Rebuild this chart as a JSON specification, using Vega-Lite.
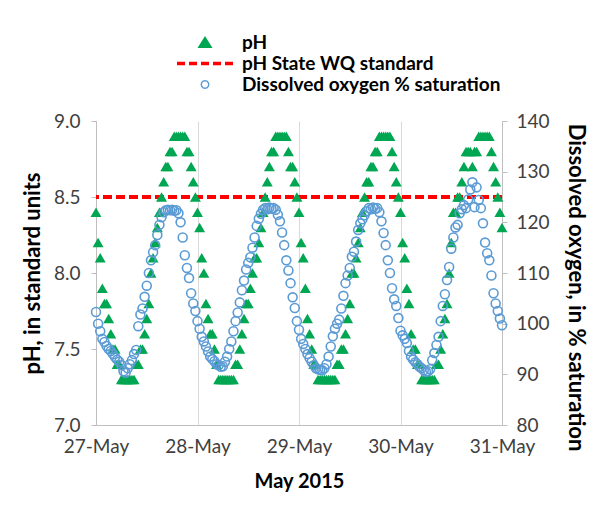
{
  "$schema": "https://vega.github.io/schema/vega-lite/v6.json",
  "autosize": "none",
  "width": 406,
  "height": 304,
  "padding": {"left": 96, "top": 121, "right": 98, "bottom": 81},
  "background": "white",
  "config": {"view": {"stroke": null}, "font": "Lato"},
  "data": {"values": [
    {"t":"2015-05-27T00:00","pH":8.4,"DO":102.3},{"t":"2015-05-27T00:30","pH":8.2,"DO":100.0},{"t":"2015-05-27T01:00","pH":8.1,"DO":98.5},{"t":"2015-05-27T01:30","pH":7.9,"DO":97.0},
    {"t":"2015-05-27T02:00","pH":7.8,"DO":96.4},{"t":"2015-05-27T02:30","pH":7.8,"DO":95.6},{"t":"2015-05-27T03:00","pH":7.7,"DO":95.0},{"t":"2015-05-27T03:30","pH":7.6,"DO":94.6},
    {"t":"2015-05-27T04:00","pH":7.5,"DO":94.0},{"t":"2015-05-27T04:30","pH":7.5,"DO":93.4},{"t":"2015-05-27T05:00","pH":7.4,"DO":92.9},{"t":"2015-05-27T05:30","pH":7.4,"DO":92.5},
    {"t":"2015-05-27T06:00","pH":7.3,"DO":91.8},{"t":"2015-05-27T06:30","pH":7.3,"DO":90.6},{"t":"2015-05-27T07:00","pH":7.3,"DO":90.3},{"t":"2015-05-27T07:30","pH":7.3,"DO":91.2},
    {"t":"2015-05-27T08:00","pH":7.3,"DO":92.0},{"t":"2015-05-27T08:30","pH":7.3,"DO":92.8},{"t":"2015-05-27T09:00","pH":7.3,"DO":94.0},{"t":"2015-05-27T09:30","pH":7.4,"DO":94.8},
    {"t":"2015-05-27T10:00","pH":7.4,"DO":99.5},{"t":"2015-05-27T10:30","pH":7.5,"DO":101.8},{"t":"2015-05-27T11:00","pH":7.5,"DO":103.0},{"t":"2015-05-27T11:30","pH":7.6,"DO":105.3},
    {"t":"2015-05-27T12:00","pH":7.7,"DO":107.5},{"t":"2015-05-27T12:30","pH":7.8,"DO":110.0},{"t":"2015-05-27T13:00","pH":8.0,"DO":112.5},{"t":"2015-05-27T13:30","pH":8.1,"DO":114.1},
    {"t":"2015-05-27T14:00","pH":8.2,"DO":115.5},{"t":"2015-05-27T14:30","pH":8.3,"DO":117.5},{"t":"2015-05-27T15:00","pH":8.4,"DO":119.5},{"t":"2015-05-27T15:30","pH":8.5,"DO":121.0},
    {"t":"2015-05-27T16:00","pH":8.6,"DO":122.0},{"t":"2015-05-27T16:30","pH":8.7,"DO":122.4},{"t":"2015-05-27T17:00","pH":8.7,"DO":122.5},{"t":"2015-05-27T17:30","pH":8.8,"DO":122.4},
    {"t":"2015-05-27T18:00","pH":8.8,"DO":122.5},{"t":"2015-05-27T18:30","pH":8.9,"DO":122.3},{"t":"2015-05-27T19:00","pH":8.9,"DO":122.4},{"t":"2015-05-27T19:30","pH":8.9,"DO":121.8},
    {"t":"2015-05-27T20:00","pH":8.9,"DO":120.0},{"t":"2015-05-27T20:30","pH":8.9,"DO":117.0},{"t":"2015-05-27T21:00","pH":8.9,"DO":113.5},{"t":"2015-05-27T21:30","pH":8.8,"DO":111.0},
    {"t":"2015-05-27T22:00","pH":8.8,"DO":109.0},{"t":"2015-05-27T22:30","pH":8.7,"DO":106.0},{"t":"2015-05-27T23:00","pH":8.6,"DO":104.0},{"t":"2015-05-27T23:30","pH":8.5,"DO":102.5},
    {"t":"2015-05-28T00:00","pH":8.4,"DO":100.5},{"t":"2015-05-28T00:30","pH":8.3,"DO":99.0},{"t":"2015-05-28T01:00","pH":8.1,"DO":97.4},{"t":"2015-05-28T01:30","pH":8.0,"DO":96.5},
    {"t":"2015-05-28T02:00","pH":7.8,"DO":95.5},{"t":"2015-05-28T02:30","pH":7.7,"DO":94.5},{"t":"2015-05-28T03:00","pH":7.6,"DO":93.5},{"t":"2015-05-28T03:30","pH":7.6,"DO":93.0},
    {"t":"2015-05-28T04:00","pH":7.5,"DO":92.6},{"t":"2015-05-28T04:30","pH":7.4,"DO":92.0},{"t":"2015-05-28T05:00","pH":7.3,"DO":91.8},{"t":"2015-05-28T05:30","pH":7.3,"DO":91.5},
    {"t":"2015-05-28T06:00","pH":7.3,"DO":91.6},{"t":"2015-05-28T06:30","pH":7.3,"DO":92.5},{"t":"2015-05-28T07:00","pH":7.3,"DO":93.5},{"t":"2015-05-28T07:30","pH":7.3,"DO":95.0},
    {"t":"2015-05-28T08:00","pH":7.3,"DO":96.5},{"t":"2015-05-28T08:30","pH":7.3,"DO":98.5},{"t":"2015-05-28T09:00","pH":7.4,"DO":100.5},{"t":"2015-05-28T09:30","pH":7.4,"DO":102.2},
    {"t":"2015-05-28T10:00","pH":7.5,"DO":104.2},{"t":"2015-05-28T10:30","pH":7.6,"DO":106.6},{"t":"2015-05-28T11:00","pH":7.7,"DO":108.5},{"t":"2015-05-28T11:30","pH":7.8,"DO":110.7},
    {"t":"2015-05-28T12:00","pH":7.8,"DO":112.0},{"t":"2015-05-28T12:30","pH":7.9,"DO":113.1},{"t":"2015-05-28T13:00","pH":8.0,"DO":115.0},{"t":"2015-05-28T13:30","pH":8.1,"DO":117.0},
    {"t":"2015-05-28T14:00","pH":8.1,"DO":119.3},{"t":"2015-05-28T14:30","pH":8.2,"DO":120.7},{"t":"2015-05-28T15:00","pH":8.3,"DO":121.7},{"t":"2015-05-28T15:30","pH":8.4,"DO":122.5},
    {"t":"2015-05-28T16:00","pH":8.5,"DO":122.8},{"t":"2015-05-28T16:30","pH":8.6,"DO":122.6},{"t":"2015-05-28T17:00","pH":8.7,"DO":122.9},{"t":"2015-05-28T17:30","pH":8.8,"DO":122.7},
    {"t":"2015-05-28T18:00","pH":8.8,"DO":122.8},{"t":"2015-05-28T18:30","pH":8.9,"DO":122.5},{"t":"2015-05-28T19:00","pH":8.9,"DO":121.5},{"t":"2015-05-28T19:30","pH":8.9,"DO":120.2},
    {"t":"2015-05-28T20:00","pH":8.9,"DO":118.0},{"t":"2015-05-28T20:30","pH":8.9,"DO":115.5},{"t":"2015-05-28T21:00","pH":8.9,"DO":112.5},{"t":"2015-05-28T21:30","pH":8.8,"DO":110.5},
    {"t":"2015-05-28T22:00","pH":8.7,"DO":108.0},{"t":"2015-05-28T22:30","pH":8.7,"DO":105.2},{"t":"2015-05-28T23:00","pH":8.6,"DO":103.1},{"t":"2015-05-28T23:30","pH":8.5,"DO":100.5},
    {"t":"2015-05-29T00:00","pH":8.4,"DO":98.8},{"t":"2015-05-29T00:30","pH":8.2,"DO":97.0},{"t":"2015-05-29T01:00","pH":8.1,"DO":96.0},{"t":"2015-05-29T01:30","pH":7.9,"DO":95.0},
    {"t":"2015-05-29T02:00","pH":7.7,"DO":94.0},{"t":"2015-05-29T02:30","pH":7.6,"DO":93.2},{"t":"2015-05-29T03:00","pH":7.5,"DO":92.5},{"t":"2015-05-29T03:30","pH":7.4,"DO":91.8},
    {"t":"2015-05-29T04:00","pH":7.4,"DO":91.2},{"t":"2015-05-29T04:30","pH":7.3,"DO":91.0},{"t":"2015-05-29T05:00","pH":7.3,"DO":90.9},{"t":"2015-05-29T05:30","pH":7.3,"DO":90.8},
    {"t":"2015-05-29T06:00","pH":7.3,"DO":91.2},{"t":"2015-05-29T06:30","pH":7.3,"DO":92.0},{"t":"2015-05-29T07:00","pH":7.3,"DO":93.5},{"t":"2015-05-29T07:30","pH":7.3,"DO":95.5},
    {"t":"2015-05-29T08:00","pH":7.3,"DO":97.5},{"t":"2015-05-29T08:30","pH":7.3,"DO":99.0},{"t":"2015-05-29T09:00","pH":7.4,"DO":100.0},{"t":"2015-05-29T09:30","pH":7.4,"DO":100.8},
    {"t":"2015-05-29T10:00","pH":7.5,"DO":103.0},{"t":"2015-05-29T10:30","pH":7.5,"DO":105.5},{"t":"2015-05-29T11:00","pH":7.6,"DO":108.0},{"t":"2015-05-29T11:30","pH":7.7,"DO":109.5},
    {"t":"2015-05-29T12:00","pH":7.8,"DO":111.0},{"t":"2015-05-29T12:30","pH":8.0,"DO":113.2},{"t":"2015-05-29T13:00","pH":8.0,"DO":114.2},{"t":"2015-05-29T13:30","pH":8.1,"DO":116.2},
    {"t":"2015-05-29T14:00","pH":8.2,"DO":118.5},{"t":"2015-05-29T14:30","pH":8.3,"DO":119.8},{"t":"2015-05-29T15:00","pH":8.4,"DO":120.6},{"t":"2015-05-29T15:30","pH":8.5,"DO":121.4},
    {"t":"2015-05-29T16:00","pH":8.6,"DO":122.2},{"t":"2015-05-29T16:30","pH":8.6,"DO":122.8},{"t":"2015-05-29T17:00","pH":8.7,"DO":122.6},{"t":"2015-05-29T17:30","pH":8.7,"DO":122.9},
    {"t":"2015-05-29T18:00","pH":8.8,"DO":122.7},{"t":"2015-05-29T18:30","pH":8.8,"DO":122.8},{"t":"2015-05-29T19:00","pH":8.9,"DO":122.0},{"t":"2015-05-29T19:30","pH":8.9,"DO":120.2},
    {"t":"2015-05-29T20:00","pH":8.9,"DO":117.9},{"t":"2015-05-29T20:30","pH":8.9,"DO":115.5},{"t":"2015-05-29T21:00","pH":8.9,"DO":112.5},{"t":"2015-05-29T21:30","pH":8.9,"DO":110.0},
    {"t":"2015-05-29T22:00","pH":8.8,"DO":107.0},{"t":"2015-05-29T22:30","pH":8.7,"DO":104.8},{"t":"2015-05-29T23:00","pH":8.6,"DO":103.5},{"t":"2015-05-29T23:30","pH":8.5,"DO":101.1},
    {"t":"2015-05-30T00:00","pH":8.4,"DO":98.6},{"t":"2015-05-30T00:30","pH":8.2,"DO":97.7},{"t":"2015-05-30T01:00","pH":8.1,"DO":97.0},{"t":"2015-05-30T01:30","pH":7.9,"DO":96.2},
    {"t":"2015-05-30T02:00","pH":7.8,"DO":94.6},{"t":"2015-05-30T02:30","pH":7.6,"DO":93.5},{"t":"2015-05-30T03:00","pH":7.5,"DO":92.9},{"t":"2015-05-30T03:30","pH":7.5,"DO":92.4},
    {"t":"2015-05-30T04:00","pH":7.4,"DO":92.0},{"t":"2015-05-30T04:30","pH":7.4,"DO":91.5},{"t":"2015-05-30T05:00","pH":7.3,"DO":91.2},{"t":"2015-05-30T05:30","pH":7.3,"DO":90.8},
    {"t":"2015-05-30T06:00","pH":7.3,"DO":90.5},{"t":"2015-05-30T06:30","pH":7.3,"DO":90.6},{"t":"2015-05-30T07:00","pH":7.3,"DO":91.0},{"t":"2015-05-30T07:30","pH":7.3,"DO":92.8},
    {"t":"2015-05-30T08:00","pH":7.3,"DO":94.2},{"t":"2015-05-30T08:30","pH":7.4,"DO":95.8},{"t":"2015-05-30T09:00","pH":7.4,"DO":97.4},{"t":"2015-05-30T09:30","pH":7.5,"DO":100.5},
    {"t":"2015-05-30T10:00","pH":7.6,"DO":103.5},{"t":"2015-05-30T10:30","pH":7.7,"DO":105.8},{"t":"2015-05-30T11:00","pH":7.8,"DO":108.6},{"t":"2015-05-30T11:30","pH":8.0,"DO":111.2},
    {"t":"2015-05-30T12:00","pH":8.2,"DO":114.8},{"t":"2015-05-30T12:30","pH":8.4,"DO":117.0},{"t":"2015-05-30T13:00","pH":8.4,"DO":119.0},{"t":"2015-05-30T13:30","pH":8.5,"DO":119.5},
    {"t":"2015-05-30T14:00","pH":8.5,"DO":121.8},{"t":"2015-05-30T14:30","pH":8.6,"DO":122.6},{"t":"2015-05-30T15:00","pH":8.7,"DO":123.4},{"t":"2015-05-30T15:30","pH":8.8,"DO":122.8},
    {"t":"2015-05-30T16:00","pH":8.8,"DO":124.5},{"t":"2015-05-30T16:30","pH":8.8,"DO":126.5},{"t":"2015-05-30T17:00","pH":8.7,"DO":127.9},{"t":"2015-05-30T17:30","pH":8.8,"DO":123.0},
    {"t":"2015-05-30T18:00","pH":8.8,"DO":126.9},{"t":"2015-05-30T18:30","pH":8.9,"DO":124.4},{"t":"2015-05-30T19:00","pH":8.9,"DO":122.8},{"t":"2015-05-30T19:30","pH":8.9,"DO":119.8},
    {"t":"2015-05-30T20:00","pH":8.9,"DO":116.0},{"t":"2015-05-30T20:30","pH":8.9,"DO":113.9},{"t":"2015-05-30T21:00","pH":8.9,"DO":112.5},{"t":"2015-05-30T21:30","pH":8.8,"DO":109.5},
    {"t":"2015-05-30T22:00","pH":8.7,"DO":106.0},{"t":"2015-05-30T22:30","pH":8.6,"DO":104.0},{"t":"2015-05-30T23:00","pH":8.5,"DO":102.5},{"t":"2015-05-30T23:30","pH":8.4,"DO":101.0},
    {"t":"2015-05-31T00:00","pH":8.3,"DO":99.7}
  ]},
  "layer": [
    {
      "layer": [
        {
          "mark": {"type": "rule", "strokeDash": [9, 4], "strokeWidth": 3.5},
          "encoding": {
            "y": {"datum": 8.5, "type": "quantitative", "scale": {"domain": [7, 9], "nice": false},
              "axis": {"title": "pH, in standard units", "values": [7, 7.5, 8, 8.5, 9], "format": ".1f", "grid": false, "domainColor": "#bfbfbf", "tickColor": "#bfbfbf", "tickSize": 5, "labelFont": "Lato", "labelFontSize": 19, "labelColor": "#404040", "labelPadding": 11, "titleFont": "Lato", "titleFontSize": 22, "titleFontWeight": "bold", "titleColor": "black", "titlePadding": 9}},
            "color": {"datum": "pH State WQ standard",
              "scale": {"domain": ["pH", "pH State WQ standard", "Dissolved oxygen % saturation"], "range": ["#00a651", "#ff0000", "#5b9bd5"]},
              "legend": {"orient": "none", "legendX": 80, "legendY": -89, "direction": "vertical", "title": null, "symbolSize": 3136, "symbolStrokeWidth": 1.5, "labelFont": "Lato", "labelFontSize": 19, "labelFontWeight": "bold", "labelColor": "black", "labelOffset": 8, "labelLimit": 400, "clipHeight": 21, "rowPadding": 0, "padding": 0,
                "encode": {"symbols": {"update": {
                  "shape": {"signal": "datum.value === 'pH' ? 'M0,-0.18L0.22,0.17L-0.22,0.17Z' : datum.value === 'pH State WQ standard' ? 'M-1,-0.06H-0.714V0.06H-1Z M-0.571,-0.06H-0.286V0.06H-0.571Z M-0.143,-0.06H0.143V0.06H-0.143Z M0.286,-0.06H0.571V0.06H0.286Z M0.714,-0.06H1V0.06H0.714Z' : 'M0.16,0L0.139,0.08L0.08,0.139L0,0.16L-0.08,0.139L-0.139,0.08L-0.16,0L-0.139,-0.08L-0.08,-0.139L0,-0.16L0.08,-0.139L0.139,-0.08Z M0.11,0L0.095,-0.055L0.055,-0.095L0,-0.11L-0.055,-0.095L-0.095,-0.055L-0.11,0L-0.095,0.055L-0.055,0.095L0,0.11L0.055,0.095L0.095,0.055Z'"},
                  "fill": {"signal": "datum.value === 'pH' ? '#00a651' : datum.value === 'pH State WQ standard' ? '#ff0000' : '#5b9bd5'"},
                  "fillOpacity": {"value": 1},
                  "stroke": {"signal": "datum.value === 'pH' ? '#00a651' : datum.value === 'pH State WQ standard' ? '#ff0000' : '#5b9bd5'"},
                  "strokeWidth": {"value": 1.5},
                  "strokeOpacity": {"signal": "datum.value === 'pH' ? 1 : 0"},
                  "opacity": {"value": 1}
                }}}}}
          }
        },
        {
          "mark": {"type": "point", "shape": "triangle-up", "filled": true, "size": 120, "opacity": 1},
          "encoding": {
            "x": {"field": "t", "type": "temporal",
              "scale": {"domain": [{"year": 2015, "month": 5, "date": 27}, {"year": 2015, "month": 5, "date": 31}], "nice": false},
              "axis": {"title": "May 2015", "values": [{"year": 2015, "month": 5, "date": 27}, {"year": 2015, "month": 5, "date": 28}, {"year": 2015, "month": 5, "date": 29}, {"year": 2015, "month": 5, "date": 30}, {"year": 2015, "month": 5, "date": 31}], "format": "%-d-%b", "grid": true, "gridColor": "#d9d9d9", "domainColor": "#bfbfbf", "ticks": false, "labelFont": "Lato", "labelFontSize": 19, "labelColor": "#404040", "labelPadding": 12, "labelOverlap": false, "labelFlush": false, "titleFont": "Lato", "titleFontSize": 20, "titleFontWeight": "bold", "titleColor": "black", "titlePadding": 15}},
            "y": {"field": "pH", "type": "quantitative", "scale": {"domain": [7, 9], "nice": false},
              "axis": {"title": "pH, in standard units", "values": [7, 7.5, 8, 8.5, 9], "format": ".1f", "grid": false, "domainColor": "#bfbfbf", "tickColor": "#bfbfbf", "tickSize": 5, "labelFont": "Lato", "labelFontSize": 19, "labelColor": "#404040", "labelPadding": 11, "titleFont": "Lato", "titleFontSize": 22, "titleFontWeight": "bold", "titleColor": "black", "titlePadding": 9}},
            "color": {"datum": "pH",
              "scale": {"domain": ["pH", "pH State WQ standard", "Dissolved oxygen % saturation"], "range": ["#00a651", "#ff0000", "#5b9bd5"]}}
          }
        }
      ]
    },
    {
      "mark": {"type": "point", "shape": "circle", "filled": false, "size": 80, "strokeWidth": 1.6, "opacity": 1},
      "encoding": {
        "x": {"field": "t", "type": "temporal"},
        "y": {"field": "DO", "type": "quantitative", "scale": {"domain": [80, 140], "nice": false},
          "axis": {"orient": "right", "title": "Dissolved oxygen, in % saturation", "titleY": 166, "values": [80, 90, 100, 110, 120, 130, 140], "grid": false, "domainColor": "#bfbfbf", "tickColor": "#bfbfbf", "tickSize": 5, "labelFont": "Lato", "labelFontSize": 19, "labelColor": "#404040", "labelPadding": 9, "titleFont": "Lato", "titleFontSize": 22, "titleFontWeight": "bold", "titleColor": "black", "titlePadding": 14}},
        "color": {"datum": "Dissolved oxygen % saturation",
          "scale": {"domain": ["pH", "pH State WQ standard", "Dissolved oxygen % saturation"], "range": ["#00a651", "#ff0000", "#5b9bd5"]}}
      }
    }
  ],
  "resolve": {"scale": {"y": "independent"}}
}
